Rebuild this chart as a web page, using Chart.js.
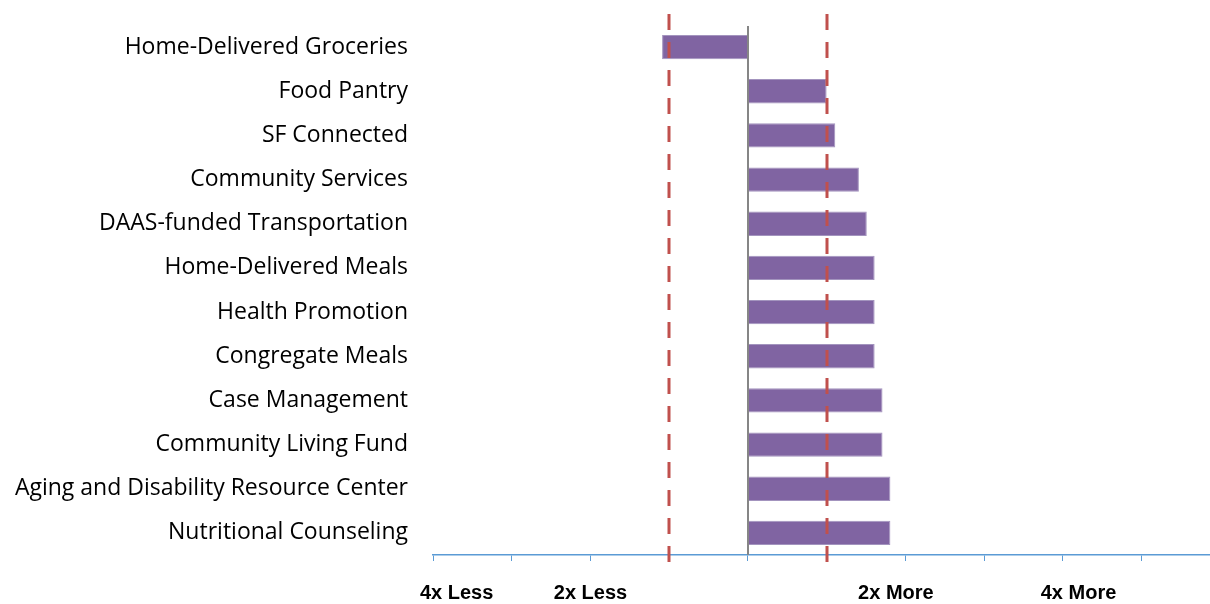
<!DOCTYPE html>
<html>
<head>
<meta charset="utf-8">
<script src="https://cdn.jsdelivr.net/npm/chart.js@4"></script>
<style>
  body { margin: 0; background: #fff; }
  #wrap { width: 1210px; height: 604px; }
</style>
</head>
<body>
<div id="wrap"><canvas id="chart" width="1210" height="604"></canvas></div>
<script>
// Chart data
const categories = [
    'Home-Delivered Groceries',
    'Food Pantry',
    'SF Connected',
    'Community Services',
    'DAAS-funded Transportation',
    'Home-Delivered Meals',
    'Health Promotion',
    'Congregate Meals',
    'Case Management',
    'Community Living Fund',
    'Aging and Disability Resource Center',
    'Nutritional Counseling'
];
const values = [-1.09, 1.0, 1.11, 1.41, 1.51, 1.61, 1.61, 1.61, 1.71, 1.71, 1.81, 1.81];

const tickValues = [-4, -3, -2, -1, 0, 1, 2, 3, 4, 5];
const tickLabels = ['4x Less', '2x Less', '2x More', '4x More'];
const tickLabelValues = [-3.7, -2, 1.88, 4.2];
const refLines = [-1, 1];

// Draws the zero line and the red dashed reference lines
const linesPlugin = {
    id: 'refLines',
    afterDatasetsDraw(chart) {
        const ctx = chart.ctx;
        const x = chart.scales.x;
        const area = chart.chartArea;
        ctx.save();
        // zero line
        const x0 = Math.round(x.getPixelForValue(0));
        ctx.strokeStyle = '#868686';
        ctx.lineWidth = 2;
        ctx.beginPath();
        ctx.moveTo(x0, area.top + 1);
        ctx.lineTo(x0, area.bottom);
        ctx.stroke();
        // dashed lines
        ctx.strokeStyle = '#C0504D';
        ctx.lineWidth = 3;
        ctx.setLineDash([16, 12]);
        refLines.forEach(v => {
            const px = Math.round(x.getPixelForValue(v));
            ctx.beginPath();
            ctx.moveTo(px, area.top - 11);
            ctx.lineTo(px, area.bottom + 14);
            ctx.stroke();
        });
        ctx.restore();
    }
};

const ctx = document.getElementById('chart').getContext('2d');
new Chart(ctx, {
    type: 'bar',
    data: {
        labels: categories,
        datasets: [{
            data: values,
            backgroundColor: '#8064A2',
            borderColor: '#A394BE',
            borderWidth: 1,
            barPercentage: 0.55,
            categoryPercentage: 1
        }]
    },
    options: {
        indexAxis: 'y',
        responsive: false,
        animation: false,
        layout: { padding: { top: 25, right: 0, left: 0, bottom: 0 } },
        plugins: {
            legend: { display: false },
            tooltip: { enabled: false }
        },
        scales: {
            y: {
                type: 'category',
                offset: true,
                grid: { display: false, drawTicks: false },
                border: { display: false },
                ticks: {
                    color: '#000',
                    padding: 25,
                    font: { family: 'Open Sans', size: 23 }
                },
                afterFit(scale) {
                    scale.width = 433;
                    scale.paddingTop = 0;
                    scale.paddingBottom = 0;
                }
            },
            x: {
                type: 'linear',
                position: 'bottom',
                weight: 0,
                min: -4,
                max: 5.87,
                grid: {
                    drawOnChartArea: false,
                    drawTicks: true,
                    tickLength: 6,
                    color: '#5B9BD5'
                },
                border: { color: '#5B9BD5', width: 1.5 },
                ticks: { display: false },
                afterBuildTicks(scale) {
                    scale.ticks = tickValues.map(v => ({ value: v }));
                },
                afterFit(scale) { scale.height = 8; }
            },
            x2: {
                type: 'linear',
                position: 'bottom',
                weight: 1,
                min: -4,
                max: 5.87,
                grid: { display: false, drawTicks: false },
                border: { display: false },
                ticks: {
                    color: '#000',
                    padding: 18,
                    maxRotation: 0,
                    autoSkip: false,
                    font: { family: 'Liberation Sans', size: 20, weight: 'bold' },
                    callback: (v, i) => tickLabels[i]
                },
                afterBuildTicks(scale) {
                    scale.ticks = tickLabelValues.map(v => ({ value: v }));
                },
                afterFit(scale) { scale.height = 41; }
            }
        }
    },
    plugins: [linesPlugin]
});
</script>
</body>
</html>
